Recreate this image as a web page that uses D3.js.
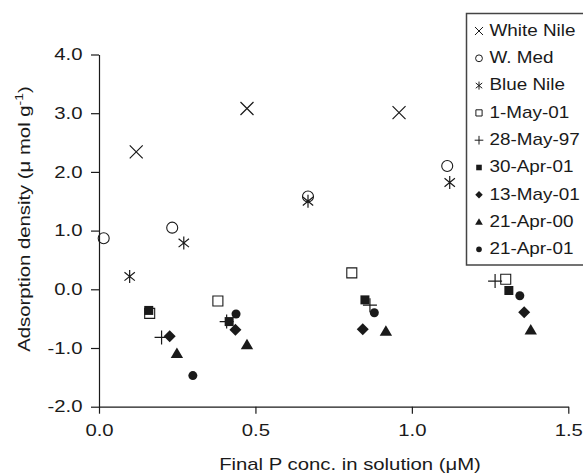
<!DOCTYPE html>
<html><head><meta charset="utf-8">
<script src="https://cdn.jsdelivr.net/npm/d3@7"></script>
<style>body{margin:0;background:#fff}svg{display:block}</style>
</head><body><svg id="c" width="583" height="476"></svg>
<script>
// ---------- data ----------
const seriesNames = ["White Nile","W. Med","Blue Nile","1-May-01","28-May-97","30-Apr-01","13-May-01","21-Apr-00","21-Apr-01"];
const whiteNile = [[0.119,2.34],[0.473,3.08],[0.959,3.01]];
const wMed      = [[0.015,0.87],[0.234,1.05],[0.668,1.58],[1.113,2.10]];
const blueNile  = [[0.098,0.22],[0.271,0.79],[0.668,1.50],[1.121,1.82]];
const may1_01   = [[0.162,-0.41],[0.380,-0.20],[0.808,0.28],[1.300,0.17]];
const may28_97  = [[0.200,-0.82],[0.408,-0.55],[0.866,-0.27],[1.266,0.14]];
const apr30_01  = [[0.159,-0.36],[0.416,-0.55],[0.850,-0.18],[1.310,-0.02]];
const may13_01  = [[0.226,-0.80],[0.436,-0.69],[0.843,-0.68],[1.359,-0.39]];
const apr21_00  = [[0.249,-1.10],[0.473,-0.95],[0.917,-0.72],[1.380,-0.70]];
const apr21_01  = [[0.300,-1.47],[0.438,-0.42],[0.880,-0.40],[1.345,-0.11]];
const xTicks = [0,0.5,1.0,1.5];
const yTicks = [-2,-1,0,1,2,3,4];
const xTitle = "Final P conc. in solution (\u03BCM)";

// ---------- layout ----------
const W = 583, H = 476;
const X0 = 99, X1 = 568.3, Y0 = 406.7, Y1 = 54.5;
const STRETCH = 1.27;
const INK = "#1a1a1a";
const FONT = "'Liberation Sans', Arial, Helvetica, sans-serif";
const fmt = v => d3.format(".1f")(v).replace("\u2212","-");

const svg = d3.select("#c");
svg.append("rect").attr("width",W).attr("height",H).attr("fill","#fff");

const x = d3.scaleLinear().domain([0,1.5]).range([X0,X1]);
const y = d3.scaleLinear().domain([-2,4]).range([Y0,Y1]);

// custom symbols (size = half extent)
const symTimes = {draw(c,s){c.moveTo(-s,-s);c.lineTo(s,s);c.moveTo(-s,s);c.lineTo(s,-s);}};
const symPlus = {draw(c,s){c.moveTo(-s,0);c.lineTo(s,0);c.moveTo(0,-s);c.lineTo(0,s);}};
const symAst = {draw(c,s){c.moveTo(0,-s);c.lineTo(0,s);const a=s*0.8,b=s*0.65;c.moveTo(-a,-b);c.lineTo(a,b);c.moveTo(-a,b);c.lineTo(a,-b);}};
const symCircle = {draw(c,s){c.moveTo(s,0);c.arc(0,0,s,0,2*Math.PI);}};
const symSquare = {draw(c,s){c.rect(-s,-s,2*s,2*s);}};
const symDiamond = {draw(c,s){c.moveTo(0,-s);c.lineTo(s,0);c.lineTo(0,s);c.lineTo(-s,0);c.closePath();}};
const symTri = {draw(c,s){const h=s*1.7;c.moveTo(0,-h*0.6);c.lineTo(s,h*0.4);c.lineTo(-s,h*0.4);c.closePath();}};

const series = [
  {name:seriesNames[0], data:whiteNile, type:symTimes, size:6.5, fill:"none", lw:1.2},
  {name:seriesNames[1], data:wMed, type:symCircle, size:5.5, fill:"none", lw:1.1},
  {name:seriesNames[2], data:blueNile, type:symAst, size:6.5, fill:"none", lw:1.2},
  {name:seriesNames[3], data:may1_01, type:symSquare, size:5, fill:"#fff", lw:1.1},
  {name:seriesNames[4], data:may28_97, type:symPlus, size:7, fill:"none", lw:1.2},
  {name:seriesNames[5], data:apr30_01, type:symSquare, size:4.5, fill:INK, lw:0},
  {name:seriesNames[6], data:may13_01, type:symDiamond, size:6, fill:INK, lw:0},
  {name:seriesNames[7], data:apr21_00, type:symTri, size:6.2, fill:INK, lw:0},
  {name:seriesNames[8], data:apr21_01, type:symCircle, size:4.5, fill:INK, lw:0},
];

// ---------- axes ----------
const xAxis = d3.axisBottom(x).tickValues(xTicks).tickFormat(fmt).tickSize(7).tickSizeOuter(0).tickPadding(11);
const yAxis = d3.axisLeft(y).tickValues(yTicks).tickFormat(fmt).tickSize(8).tickSizeOuter(0);

const gx = svg.append("g").attr("transform",`translate(0,${Y0})`).call(xAxis);
const gy = svg.append("g").attr("transform",`translate(${X0},0)`).call(yAxis);
[gx,gy].forEach(g=>{
  g.attr("font-family",FONT).attr("font-size",16);
  g.selectAll("path,line").attr("stroke",INK).attr("stroke-width",1.2);
  g.selectAll("text").attr("fill",INK);
});
gx.selectAll("text").attr("transform",`scale(${STRETCH},1)`);
gy.selectAll("text").attr("x",0).attr("transform",`translate(-16.5,0) scale(${STRETCH},1)`);

// ---------- titles ----------
svg.append("text").attr("font-family",FONT).attr("font-size",16).attr("fill",INK)
  .attr("text-anchor","middle")
  .attr("transform",`translate(350,470) scale(${STRETCH},1)`)
  .text(xTitle);

const yt = svg.append("text").attr("font-family",FONT).attr("font-size",16).attr("fill",INK)
  .attr("text-anchor","middle")
  .attr("transform",`translate(29.5,219) rotate(-90) scale(${STRETCH},1)`);
yt.append("tspan").text("Adsorption density (\u03BC mol g");
yt.append("tspan").attr("font-size",11).attr("dy",-7).text("-1");
yt.append("tspan").attr("dy",7).text(")");

// ---------- points ----------
series.forEach(s=>{
  const sym = d3.symbol().type(s.type).size(s.size);
  svg.append("g").selectAll("path").data(s.data).join("path")
    .attr("transform",d=>`translate(${x(d[0])},${y(d[1])})`)
    .attr("d",sym())
    .attr("fill",s.fill)
    .attr("stroke",s.lw?INK:"none")
    .attr("stroke-width",s.lw);
});

// ---------- legend ----------
const lg = svg.append("g");
lg.append("rect").attr("x",466.5).attr("y",13.5).attr("width",200).attr("height",251.5)
  .attr("fill","#fff").attr("stroke","#444").attr("stroke-width",1.5);
series.forEach((s,i)=>{
  const cy = 30 + i*27.3;
  const sym = d3.symbol().type(s.type).size(s.size*0.62);
  lg.append("path").attr("transform",`translate(479,${cy+1})`).attr("d",sym())
    .attr("fill",s.fill).attr("stroke",s.lw?INK:"none").attr("stroke-width",s.lw?1:0);
  lg.append("text").attr("font-family",FONT).attr("font-size",16).attr("fill",INK)
    .attr("transform",`translate(489.5,${cy+5.8}) scale(1.18,1)`)
    .text(s.name);
});
</script>
</body></html>
